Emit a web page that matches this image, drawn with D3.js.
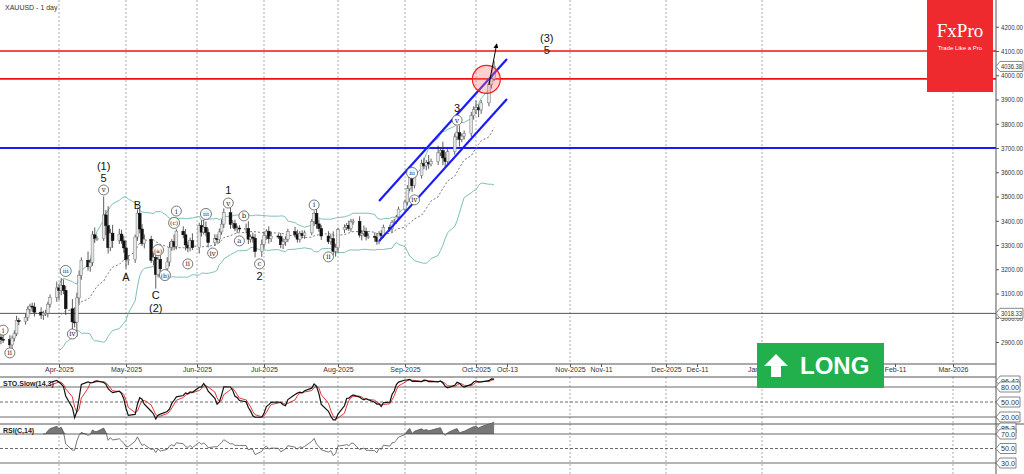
<!DOCTYPE html>
<html>
<head>
<meta charset="utf-8">
<script src="https://cdn.jsdelivr.net/npm/d3@7"></script>
<style>
  body { margin: 0; background: #fff; }
  svg { display: block; font-family: "Liberation Sans", Arial, sans-serif; }
</style>
</head>
<body>
<div id="chart"></div>
<script>
// daily closes XAUUSD, from 5 Mar 2025 (weekdays)
var closes = [2920,2911,2910,
  2888,2916,2934,2988,2984, 3001,3035,3048,3044,3023, 3011,3019,3019,3056,3084,
  3123,3113,3134,3113,3037, 2983,2982,3082,3175,3237, 3210,3228,3342,3327,3327,
  3424,3380,3289,3349,3318, 3345,3317,3288,3239,3240, 3333,3431,3366,3306,3324,
  3236,3249,3178,3240,3202, 3230,3290,3314,3294,3357, 3342,3300,3288,3318,3289,
  3380,3353,3373,3352,3310, 3326,3322,3354,3386,3433, 3385,3388,3369,3370,3368,
  3368,3324,3333,3328,3273, 3303,3338,3357,3326,3337, 3335,3301,3313,3324,3355,
  3343,3324,3347,3339,3350, 3397,3431,3387,3368,3337, 3314,3326,3274,3289,3363,
  3373,3381,3368,3396,3398, 3341,3348,3356,3335,3336, 3332,3315,3347,3339,3372,
  3366,3393,3397,3416,3448, 3477,3533,3578,3545,3586, 3636,3626,3641,3634,3644,
  3680,3690,3659,3644,3685, 3746,3763,3736,3749,3760, 3833,3858,3866,3857,3886,
  3961,3985,4036];
// wick extensions above / below the body
var upWick = [15,12,20, 18,10,14,20,12, 16,12,10,14,18, 20,10,14,10,12,
  26,14,30,24,18, 40,60,22,20,12, 36,14,16,30,10,
  76,20,80,18,34, 22,18,20,30,18, 10,16,24,20,20,
  14,16,20,12,18, 20,22,10,30,8, 20,24,14,12,30,
  12,22,30,24,16, 18,18,14,20,18, 20,14,16,10,12,
  20,30,10,18,18, 20,18,8,20,18, 10,14,14,12,12,
  20,20,10,14,10, 10,8,32,18,14, 20,18,30,16,8,
  12,10,20,12,10, 20,14,24,16,12, 16,14,10,14,12,
  12,10,10,8,10, 10,14,8,20,14, 16,24,10,30,12,
  30,12,36,24,10, 14,28,30,10,12, 16,14,30,14,12,
  12,14,23];
var dnWick = [18,20,14, 16,18,14,10,14, 12,14,14,20,18, 16,20,12,18,14,
  18,40,20,16,26, 30,22,60,24,18, 16,20,14,18,10,
  10,40,24,14,30, 14,12,20,36,22, 14,16,18,10,20,
  10,20,58,12,14, 20,18,14,16,12, 14,22,18,14,10,
  24,18,10,16,20, 14,16,14,12,16, 18,14,12,20,14,
  20,20,14,18,24, 22,18,16,20,14, 10,14,18,16,12,
  12,14,14,12,14, 10,18,20,14,16, 10,12,16,22,20,
  14,12,10,14,12, 10,22,12,16,10, 18,14,12,14,10,
  12,14,12,10,12, 10,14,10,26,12, 12,14,18,20,10,
  14,14,30,24,12, 12,14,30,12,14, 14,16,18,30,16,
  14,16,10];
var firstOpen = 2908;
var xDates = ["2025-04-01","2025-05-01","2025-06-01","2025-07-01","2025-08-01","2025-09-01",
  "2025-10-01","2025-10-13","2025-11-01","2025-11-11","2025-12-01","2025-12-11","2026-01-01","2026-02-11","2026-03-01"];
var xTickLabels = ["Apr-2025","May-2025","Jun-2025","Jul-2025","Aug-2025","Sep-2025",
  "Oct-2025","Oct-13","Nov-2025","Nov-11","Dec-2025","Dec-11","Jan-2026","Feb-11","Mar-2026"];
var xTickPx = [59,126,197,264,338,405,476,507,570,601,666,697,762,895,953];
var priceTicks = [2900,3000,3100,3200,3300,3400,3500,3600,3700,3800,3900,4000,4100,4200];
var priceLabels = [4036.38, 3018.33];
var redLevels = [4100, 3985];
var blueLevels = [3700];
var grayLevels = [3018];
// channel lines [date, price] -> [date, price]
var channel = [[["2025-08-20",3481],["2025-10-13",4067]], [["2025-08-20",3316],["2025-10-13",3902]]];
// wave labels: date, price, text, circled?
var waves = [
  ["2025-04-21",3626,"(1)",0],["2025-04-21",3576,"5",0],["2025-04-21",3527,"v",1],
  ["2025-05-06",3465,"B",0],["2025-05-01",3168,"A",0],["2025-05-14",3094,"C",0],["2025-05-14",3040,"(2)",0],
  ["2025-05-23",3440,"i",1],["2025-05-22",3391,"(c)",1],["2025-05-15",3279,"(a)",1],["2025-05-18",3176,"(b)",1],
  ["2025-06-05",3428,"iii",1],["2025-05-28",3222,"ii",1],["2025-06-08",3267,"iv",1],
  ["2025-06-15",3527,"1",0],["2025-06-15",3473,"v",1],["2025-06-22",3420,"b",1],["2025-06-20",3317,"a",1],
  ["2025-06-29",3222,"c",1],["2025-06-29",3172,"2",0],
  ["2025-07-22",3465,"i",1],["2025-07-28",3251,"ii",1],
  ["2025-09-04",3597,"iii",1],["2025-09-05",3486,"iv",1],["2025-09-23",3865,"3",0],["2025-09-23",3815,"v",1],
  ["2025-03-07",2949,"i",1],["2025-03-10",2855,"ii",1],["2025-04-04",3193,"iii",1],["2025-04-07",2933,"iv",1],
  ["2025-10-25",4154,"(3)",0],["2025-10-25",4104,"5",0]];

var W = 1024, H = 474, axisX = 996;
var parse = d3.timeParse("%Y-%m-%d");

// build bars
var bars = [], d = parse("2025-03-05"), prev = firstOpen;
closes.forEach(function(c, i) {
  while (d.getDay() == 0 || d.getDay() == 6) d = d3.timeDay.offset(d, 1);
  var o = prev;
  bars.push({date: d, o: o, c: c, h: Math.max(o, c) + upWick[i], l: Math.min(o, c) - dnWick[i]});
  prev = c;
  d = d3.timeDay.offset(d, 1);
});

// indicators
bars.forEach(function(b, i) {
  if (i >= 19) {
    var s = bars.slice(i - 19, i + 1).map(function(e) { return e.c; });
    var m = d3.mean(s), sd = d3.deviation(s) * Math.sqrt(19 / 20);
    b.ma = m; b.up = m + 2 * sd; b.dn = m - 2 * sd;
  }
  if (i >= 13) {
    var w = bars.slice(i - 13, i + 1);
    var hh = d3.max(w, function(e) { return e.h; }), ll = d3.min(w, function(e) { return e.l; });
    b.fk = 100 * (b.c - ll) / (hh - ll);
  }
});
bars.forEach(function(b, i) {
  if (i >= 15) b.k = d3.mean(bars.slice(i - 2, i + 1), function(e) { return e.fk; });
  if (i >= 17) b.dd = d3.mean(bars.slice(i - 2, i + 1), function(e) { return e.k; });
});
var ag = 0, al = 0;
bars.forEach(function(b, i) {
  if (i == 0) return;
  var ch = b.c - bars[i - 1].c, g = Math.max(ch, 0), lo = Math.max(-ch, 0);
  if (i <= 14) { ag += g / 14; al += lo / 14; }
  else { ag = (ag * 13 + g) / 14; al = (al * 13 + lo) / 14; }
  if (i >= 14) b.rsi = 100 - 100 / (1 + ag / al);
});

var x = d3.scaleTime().domain(xDates.map(parse)).range(xTickPx);
var y = d3.scaleLinear().domain([2900, 4100]).range([342, 51]);
var ySt = d3.scaleLinear().domain([20, 80]).range([417, 387]);
var yRs = d3.scaleLinear().domain([30, 70]).range([463, 434]);

var svg = d3.select('#chart').append('svg').attr('width', W).attr('height', H);
svg.append('defs').append('clipPath').attr('id', 'clipMain')
  .append('rect').attr('x', 0).attr('y', 0).attr('width', axisX).attr('height', 364);

// vertical grid
[[0, 364], [377, 424], [424, 474]].forEach(function(p) {
  svg.selectAll(null).data(xTickPx.filter(function(v, i) { return xTickLabels[i].indexOf('-20') > 0; }))
    .enter().append('line')
    .attr('x1', function(v) { return v; }).attr('x2', function(v) { return v; })
    .attr('y1', p[0]).attr('y2', p[1])
    .attr('stroke', '#888').attr('stroke-dasharray', '2,2').attr('stroke-width', 0.7);
});

var main = svg.append('g').attr('clip-path', 'url(#clipMain)');

// levels
function hline(v, col, wd) {
  main.append('line').attr('x1', 0).attr('x2', axisX).attr('y1', y(v)).attr('y2', y(v))
    .attr('stroke', col).attr('stroke-width', wd);
}
grayLevels.forEach(function(v) { hline(v, '#555', 1); });
blueLevels.forEach(function(v) { hline(v, '#1a1aff', 2); });
redLevels.forEach(function(v) { hline(v, '#ee1111', 1.6); });

// bollinger
var bb = bars.filter(function(b) { return b.ma; });
function ln(key, yy) { return d3.line().x(function(b) { return x(b.date); }).y(function(b) { return yy(b[key]); }); }
main.append('path').attr('d', ln('up', y)(bb)).attr('fill', 'none').attr('stroke', '#7fbfb8');
main.append('path').attr('d', ln('dn', y)(bb)).attr('fill', 'none').attr('stroke', '#7fbfb8');
main.append('path').attr('d', ln('ma', y)(bb)).attr('fill', 'none').attr('stroke', '#777').attr('stroke-dasharray', '2,2');

// candles
var cg = main.selectAll(null).data(bars).enter().append('g');
cg.append('line').attr('x1', function(b) { return x(b.date); }).attr('x2', function(b) { return x(b.date); })
  .attr('y1', function(b) { return y(b.h); }).attr('y2', function(b) { return y(b.l); })
  .attr('stroke', '#333').attr('stroke-width', 0.8);
cg.append('rect').attr('x', function(b) { return x(b.date) - 1.4; }).attr('width', 2.8)
  .attr('y', function(b) { return y(Math.max(b.o, b.c)); })
  .attr('height', function(b) { return Math.max(1, Math.abs(y(b.o) - y(b.c))); })
  .attr('fill', function(b) { return b.c >= b.o ? '#e6e6e6' : '#111'; })
  .attr('stroke', function(b) { return b.c >= b.o ? '#777' : '#111'; }).attr('stroke-width', 0.5);

// channel
channel.forEach(function(c) {
  main.append('line').attr('x1', x(parse(c[0][0]))).attr('y1', y(c[0][1]))
    .attr('x2', x(parse(c[1][0]))).attr('y2', y(c[1][1]))
    .attr('stroke', '#1a1aff').attr('stroke-width', 2.2);
});

// target circle + arrow
main.append('circle').attr('cx', x(parse("2025-10-05"))).attr('cy', y(3983)).attr('r', 14)
  .attr('fill', 'rgba(255,120,120,0.35)').attr('stroke', '#ee2222').attr('stroke-width', 1.2);
svg.append('defs').append('marker').attr('id', 'arr').attr('viewBox', '0 0 10 10')
  .attr('refX', 8).attr('refY', 5).attr('markerWidth', 5).attr('markerHeight', 5).attr('orient', 'auto')
  .append('path').attr('d', 'M0,0L10,5L0,10z').attr('fill', '#000');
main.append('line').attr('x1', x(parse("2025-10-06"))).attr('y1', y(3960))
  .attr('x2', x(parse("2025-10-09"))).attr('y2', y(4128))
  .attr('stroke', '#000').attr('stroke-width', 1).attr('marker-end', 'url(#arr)');

// wave labels
waves.forEach(function(w) {
  var px = x(parse(w[0])), py = y(w[1]);
  if (w[3]) {
    var r = w[2].length > 2 ? 5.5 : 5;
    main.append('circle').attr('cx', px).attr('cy', py).attr('r', r)
      .attr('fill', '#fff').attr('stroke', '#555').attr('stroke-width', 0.8);
    main.append('text').attr('x', px).attr('y', py + 2.5).attr('text-anchor', 'middle').attr('fill', '#222')
      .attr('font-family', 'DejaVu Serif, serif').attr('font-size', w[2].length > 2 ? 6 : 7).text(w[2]);
  } else {
    main.append('text').attr('x', px).attr('y', py + 4).attr('text-anchor', 'middle')
      .attr('font-size', 11).attr('fill', '#111').text(w[2]);
  }
});

// FxPro logo
svg.append('rect').attr('x', 927).attr('y', 0).attr('width', 66).attr('height', 92).attr('fill', '#ee2a2e');
svg.append('text').attr('x', 960).attr('y', 37).attr('text-anchor', 'middle').attr('fill', '#fff')
  .attr('font-family', 'Liberation Serif, serif').attr('font-size', 19).text('FxPro');
svg.append('text').attr('x', 960).attr('y', 50).attr('text-anchor', 'middle').attr('fill', '#fff')
  .attr('font-size', 6).text('Trade Like a Pro');

svg.append('text').attr('x', 5).attr('y', 10).attr('font-size', 7).attr('fill', '#333').text('XAUUSD - 1 day');

// price axis
svg.append('line').attr('x1', axisX).attr('x2', axisX).attr('y1', 0).attr('y2', H).attr('stroke', '#555');
var pa = svg.append('g').attr('transform', 'translate(' + axisX + ',0)');
pa.call(d3.axisRight(y).tickValues(priceTicks).tickSize(3).tickPadding(2).tickFormat(d3.format('.2f')));
pa.select('.domain').remove();
pa.selectAll('text').attr('font-size', 7).attr('fill', '#333')
  .attr('textLength', 22).attr('lengthAdjust', 'spacingAndGlyphs');
pa.selectAll('line').attr('stroke', '#555');
function tag(yy, txt, wd) {
  var g = svg.append('g').attr('transform', 'translate(' + axisX + ',' + yy + ')');
  g.append('path').attr('d', 'M0,0L4,-5H' + wd + 'V5H4Z').attr('fill', '#fff').attr('stroke', '#555').attr('stroke-width', 0.7);
  g.append('text').attr('x', 5).attr('y', 2.5).attr('font-size', 7).attr('fill', '#333')
    .attr('textLength', wd - 6).attr('lengthAdjust', 'spacingAndGlyphs').text(txt);
}
priceLabels.forEach(function(v) { tag(y(v), v.toFixed(2), 27); });

// date axis strip
svg.append('line').attr('x1', 0).attr('x2', axisX).attr('y1', 364).attr('y2', 364).attr('stroke', '#555');
svg.append('line').attr('x1', 0).attr('x2', axisX).attr('y1', 377).attr('y2', 377).attr('stroke', '#555');
var da = svg.append('g').attr('transform', 'translate(0,364)');
da.call(d3.axisBottom(x).tickValues(xDates.map(parse)).tickSize(3)
  .tickFormat(function(t, i) { return xTickLabels[i]; }));
da.select('.domain').remove();
da.selectAll('text').attr('font-size', 7).attr('fill', '#333').attr('dy', '0.3em');
da.selectAll('line').attr('stroke', '#555');

// stochastic panel
svg.append('line').attr('x1', 0).attr('x2', W).attr('y1', 424).attr('y2', 424).attr('stroke', '#555');
[[80, 0], [20, 0], [50, 1]].forEach(function(l) {
  svg.append('line').attr('x1', 0).attr('x2', axisX).attr('y1', ySt(l[0])).attr('y2', ySt(l[0]))
    .attr('stroke', '#444').attr('stroke-dasharray', l[1] ? '3,2' : null).attr('stroke-width', 0.8);
});
var sk = bars.filter(function(b) { return b.dd != null; });
svg.append('path').attr('d', ln('dd', ySt)(sk)).attr('fill', 'none').attr('stroke', '#dd2222').attr('stroke-width', 0.9);
svg.append('path').attr('d', ln('k', ySt)(sk)).attr('fill', 'none').attr('stroke', '#111').attr('stroke-width', 1.2);
svg.append('text').attr('x', 3).attr('y', 386).attr('font-size', 7).attr('font-weight', 'bold').attr('fill', '#222').text('STO.Slow(14,3)');

// RSI panel
var rs = bars.filter(function(b) { return b.rsi != null; });
svg.append('path').attr('d', d3.area().x(function(b) { return x(b.date); })
  .y0(yRs(70)).y1(function(b) { return yRs(Math.max(70, b.rsi)); })(rs)).attr('fill', '#777');
[[70, 0], [30, 0], [50, 1]].forEach(function(l) {
  svg.append('line').attr('x1', 0).attr('x2', axisX).attr('y1', yRs(l[0])).attr('y2', yRs(l[0]))
    .attr('stroke', '#444').attr('stroke-dasharray', l[1] ? '3,2' : null).attr('stroke-width', 0.8);
});
svg.append('path').attr('d', ln('rsi', yRs)(rs)).attr('fill', 'none').attr('stroke', '#555').attr('stroke-width', 0.8);
svg.append('text').attr('x', 3).attr('y', 433).attr('font-size', 7).attr('font-weight', 'bold').attr('fill', '#222').text('RSI(C,14)');

// indicator labels on the axis
tag(381, '96.42', 24); tag(ySt(80), '80.00', 24); tag(ySt(50), '50.00', 24); tag(ySt(20), '20.00', 24);
tag(428, '85.3', 20); tag(yRs(70), '70.0', 20); tag(yRs(50), '50.0', 20); tag(yRs(30), '30.0', 20);

// LONG badge
var lg = svg.append('g').attr('transform', 'translate(757,343)');
lg.append('rect').attr('width', 127).attr('height', 45).attr('fill', '#22b04c');
lg.append('path').attr('d', 'M17,11L29,23H22V34H12V23H5Z').attr('fill', '#fff').attr('transform', 'translate(2,0)');
lg.append('text').attr('x', 43).attr('y', 31).attr('fill', '#fff').attr('font-size', 24)
  .attr('font-weight', 'bold').text('LONG');
</script>
</body>
</html>
